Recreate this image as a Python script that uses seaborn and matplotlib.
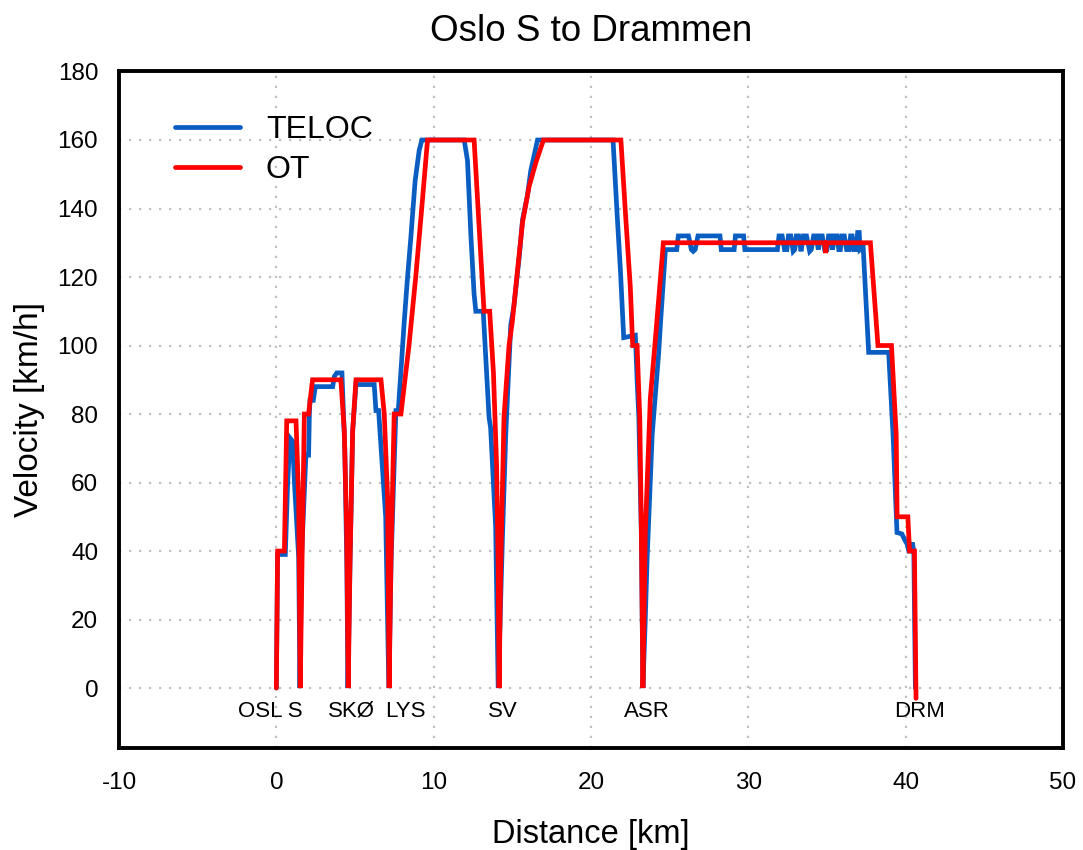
import numpy as np
import pandas as pd
import matplotlib
matplotlib.use("Agg")
import matplotlib.pyplot as plt
import seaborn as sns

# ---------------- data ----------------
teloc_km = [0.0, 0.08, 0.57, 0.72, 0.87, 1.04, 1.15, 1.42, 1.5, 1.6, 1.88, 2.05, 2.1, 2.14, 2.35,
            2.48, 3.58, 3.69, 3.84, 4.17, 4.35, 4.48, 4.55, 4.68, 4.85, 5.06, 6.22, 6.33, 6.5,
            6.95, 7.15, 7.3, 7.6, 7.75, 8.13, 8.34, 8.55, 8.82, 9.08, 9.25, 11.94, 12.15, 12.37,
            12.57, 12.68, 13.15, 13.52, 13.62, 13.94, 14.1, 14.37, 14.58, 14.9, 15.1, 15.43,
            15.65, 15.96, 16.17, 16.6, 21.4, 21.66, 21.87, 22.08, 22.82, 22.93, 23.04, 23.2,
            23.3, 23.45, 23.57, 23.89, 24.3, 24.41, 24.73, 25.45, 25.55, 26.2, 26.38, 26.5,
            26.62, 26.8, 28.2, 28.28, 29.1, 29.18, 29.7, 29.78, 31.85, 31.95, 32.15, 32.3,
            32.45, 32.55, 32.7, 32.85, 32.95, 33.05, 33.2, 33.35, 33.5, 33.7, 33.9, 34.0,
            34.15, 34.3, 34.45, 34.55, 34.7, 34.85, 35.0, 35.1, 35.25, 35.35, 35.5, 35.65,
            35.75, 35.85, 35.95, 36.1, 36.25, 36.4, 36.5, 36.6, 36.7, 36.85, 36.95, 37.05,
            37.1, 37.3, 37.65, 38.92, 39.2, 39.45, 39.76, 39.97, 40.1, 40.2, 40.3, 40.42,
            40.52, 40.62]
teloc_v = [0, 39, 39, 60, 73, 72, 60, 38, 0, 38, 68, 68, 80, 84, 84,
           88, 88, 91, 92, 92, 70, 36, 0, 36, 75, 88.6, 88.6, 81, 81,
           50, 0, 38, 81, 81, 107, 120, 131.6, 148, 157, 160, 160, 154, 131.7,
           115, 110, 110, 79, 76, 47, 0, 43.6, 73.8, 106, 111.5, 125.5,
           136.8, 143.8, 151, 160, 160, 138.4, 122, 102.3, 103, 90, 79, 45,
           0, 20, 38, 74, 97.7, 106, 128, 128, 132, 132, 128, 127.5,
           128, 132, 132, 128, 128, 132, 132, 128, 128, 132, 132, 128,
           128, 132, 132, 127.5, 128, 132, 132, 127.5, 132, 132, 127.5, 128,
           132, 132, 128, 132, 132, 128, 128, 132, 132, 128, 132, 132,
           128, 128, 132, 132, 128, 128, 132, 132, 128, 128, 133, 133,
           128, 128.8, 98, 98, 74, 45.4, 45, 43, 42, 40, 40, 42.5,
           40, 0]

ot_km = [0.0, 0.08, 0.51, 0.66, 1.25, 1.42, 1.52, 1.63, 1.78, 2.05, 2.3, 4.1, 4.32, 4.47,
         4.57, 4.68, 4.85, 5.06, 6.65, 6.86, 7.07, 7.17, 7.28, 7.49, 7.92, 8.43, 8.86, 9.24,
         9.61, 12.57, 13.2, 13.56, 13.8, 14.0, 14.1, 14.16, 14.26, 14.47, 14.79, 15.0, 15.33,
         15.65, 16.07, 16.5, 16.98, 21.9, 22.2, 22.5, 22.65, 22.93, 23.1, 23.2, 23.3, 23.45,
         23.77, 24.15, 24.6, 34.85, 34.92, 34.99, 37.76, 38.24, 39.1, 39.4, 39.46, 40.14,
         40.25, 40.56, 40.66]
ot_v = [0, 40, 40, 78, 78, 55, 0, 36, 80, 80, 90, 90, 75, 46,
        0, 36, 75, 90, 90, 80, 56, 0, 36, 80, 80, 100, 120, 140,
        160, 160, 110, 110, 92, 65, 35, 0, 35, 79, 100, 107, 122,
        136, 146.5, 153.5, 160, 160, 138, 117, 100, 100, 79, 47, 0, 45,
        84.5, 105, 130, 130, 127, 130, 130, 100, 100, 74, 50, 50,
        40, 40, -3]

series_names = ["TELOC", "OT"]
series_colors = ["#0A5EC2", "#FF0000"]

station_names = ["OSL S", "SKØ", "LYS", "SV", "ASR", "DRM"]
station_label_km = [-0.38, 4.75, 8.18, 14.41, 23.56, 40.89]

x_ticks = [-10, 0, 10, 20, 30, 40, 50]
y_ticks = [0, 20, 40, 60, 80, 100, 120, 140, 160, 180]

# ---------------- style ----------------
sns.set_style("white")
plt.rcParams["font.family"] = ["Liberation Sans", "DejaVu Sans"]
plt.rcParams["axes.unicode_minus"] = False
plt.rcParams["text.color"] = "black"
plt.rcParams["axes.labelcolor"] = "black"

df = pd.concat([
    pd.DataFrame({"Distance": teloc_km, "Velocity": teloc_v, "Series": series_names[0],
                  "order": np.arange(len(teloc_km))}),
    pd.DataFrame({"Distance": ot_km, "Velocity": ot_v, "Series": series_names[1],
                  "order": np.arange(len(ot_km))}),
], ignore_index=True)

fig = plt.figure(figsize=(10.83, 8.5), dpi=100)
ax = fig.add_axes([0.1099, 0.12, 0.8716, 0.7959])

sns.lineplot(data=df, x="Distance", y="Velocity", hue="Series",
             palette=dict(zip(series_names, series_colors)),
             hue_order=series_names, sort=False, estimator=None,
             linewidth=3.4, ax=ax)
for ln in ax.lines:
    ln.set_solid_joinstyle("miter")

ax.set_xlim(-10, 50)
ax.set_ylim(-17.5, 180)
ax.set_xticks(x_ticks)
ax.set_yticks(y_ticks)

ax.grid(True, color="#c0c0c0", linestyle=(0, (1, 3.5)), linewidth=1.6)
ax.set_axisbelow(True)

for sp in ax.spines.values():
    sp.set_visible(True)
    sp.set_linewidth(2.8)
    sp.set_color("black")

ax.tick_params(axis="both", which="major", direction="out", length=7, width=1,
               color="black", labelsize=17.5, labelcolor="black")
ax.tick_params(axis="x", pad=10)
ax.tick_params(axis="y", pad=8)

ax.set_xlabel("Distance [km]", fontsize=23.5, labelpad=18, color="black")
ax.set_ylabel("Velocity [km/h]", fontsize=24, labelpad=9, color="black")
ax.set_title("Oslo S to Drammen", fontsize=26.5, pad=22, color="black")

for name, km in zip(station_names, station_label_km):
    ax.text(km, -6.7, name, ha="center", va="center", fontsize=16, color="black")

leg = ax.legend(loc="upper left", bbox_to_anchor=(0.059, 0.936), frameon=False,
                fontsize=23, handlelength=2.05, handletextpad=0.8, labelspacing=0.33,
                borderpad=0, borderaxespad=0)
for h in leg.get_lines():
    h.set_linewidth(3.4)
for t in leg.get_texts():
    t.set_color("black")

fig.savefig("out.png", dpi=100)
